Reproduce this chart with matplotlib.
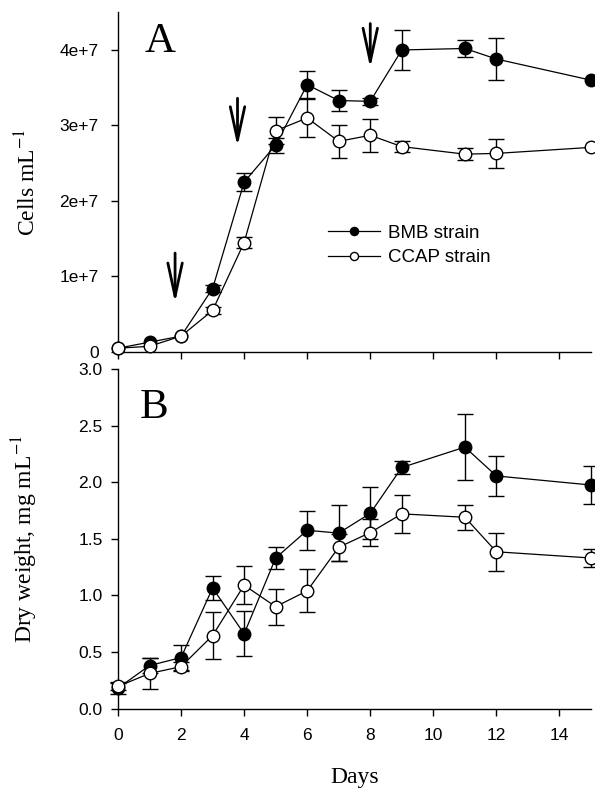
import numpy as np
import matplotlib
matplotlib.use("Agg")
import matplotlib.pyplot as plt

# -----------------------------
# data
# -----------------------------

days = np.array([0, 1, 2, 3, 4, 5, 6, 7, 8, 9, 11, 12, 15])

# panel A: cell density (cells per mL)
bmb_cells = np.array([0.05, 0.13, 0.21, 0.84, 2.25, 2.74, 3.54, 3.33, 3.32, 4.00, 4.02, 3.88, 3.60]) * 1e7
bmb_cells_err = np.array([0.0, 0.0, 0.0, 0.05, 0.115, 0.10, 0.18, 0.14, 0.05, 0.26, 0.115, 0.28, 0.0]) * 1e7
ccap_cells = np.array([0.05, 0.075, 0.21, 0.55, 1.45, 2.93, 3.10, 2.79, 2.87, 2.72, 2.62, 2.63, 2.71]) * 1e7
ccap_cells_err = np.array([0.0, 0.0, 0.0, 0.05, 0.07, 0.18, 0.25, 0.215, 0.215, 0.07, 0.08, 0.19, 0.0]) * 1e7

# panel B: dry weight (mg per mL)
bmb_dw = np.array([0.18, 0.38, 0.45, 1.065, 0.66, 1.33, 1.575, 1.55, 1.725, 2.13, 2.31, 2.055, 1.975])
bmb_dw_err = np.array([0.05, 0.07, 0.11, 0.11, 0.20, 0.10, 0.17, 0.25, 0.23, 0.06, 0.29, 0.18, 0.17])
ccap_dw = np.array([0.195, 0.31, 0.37, 0.645, 1.09, 0.90, 1.04, 1.425, 1.555, 1.72, 1.69, 1.385, 1.33])
ccap_dw_err = np.array([0.03, 0.14, 0.04, 0.21, 0.17, 0.16, 0.19, 0.12, 0.12, 0.17, 0.11, 0.17, 0.08])

# arrows in panel A: (day, top, tip)
arrow_days = [1.81, 3.79, 8.0]
arrow_tops = [1.31e7, 3.36e7, 4.35e7]
arrow_tips = [0.65e7, 2.72e7, 3.76e7]

x_ticks = [0, 2, 4, 6, 8, 10, 12, 14]
cell_ticks = [0, 1e7, 2e7, 3e7, 4e7]
cell_tick_labels = ["0", "1e+7", "2e+7", "3e+7", "4e+7"]
dw_ticks = [0.0, 0.5, 1.0, 1.5, 2.0, 2.5, 3.0]

# -----------------------------
# style
# -----------------------------

plt.rcParams["font.family"] = "Liberation Sans"
plt.rcParams["mathtext.fontset"] = "stix"
serif = "Liberation Serif"

fig = plt.figure(figsize=(5.95, 7.89), dpi=100)
ax1 = fig.add_axes([0.1983, 0.5539, 0.7950, 0.4306])
ax2 = fig.add_axes([0.1983, 0.1020, 0.7950, 0.4303])


def draw_series(ax, y, err, filled, label):
    m = err > 0
    ax.errorbar(days[m], y[m], yerr=err[m], fmt="none", ecolor="black",
                elinewidth=1.0, capsize=6, capthick=1.0, zorder=2, clip_on=False)
    ax.plot(days, y, "-o", color="black", lw=0.9, ms=9,
            mfc="black" if filled else "white", mec="black", mew=1.0,
            label=label, zorder=3, clip_on=False)


def style_axes(ax):
    for side in ["top", "right"]:
        ax.spines[side].set_visible(False)
    for side in ["left", "bottom"]:
        ax.spines[side].set_linewidth(1.0)
    ax.set_xlim(0, 15)
    ax.set_xticks(x_ticks)
    ax.tick_params(direction="out", length=5, width=1.0, labelsize=12.5)


# panel A
draw_series(ax1, bmb_cells, bmb_cells_err, True, "BMB strain")
draw_series(ax1, ccap_cells, ccap_cells_err, False, "CCAP strain")
style_axes(ax1)
ax1.set_ylim(0, 4.5e7)
ax1.set_yticks(cell_ticks)
ax1.set_yticklabels(cell_tick_labels)
ax1.tick_params(axis="x", labelbottom=False)
ax1.tick_params(axis="y", pad=9)
ax1.set_ylabel(r"Cells mL$^{-1}$", fontsize=17, family=serif)
ax1.yaxis.set_label_coords(-0.165, 0.5)
ax1.text(0.057, 0.883, "A", transform=ax1.transAxes, fontsize=31, family=serif, va="baseline")

for d, top, tip in zip(arrow_days, arrow_tops, arrow_tips):
    ax1.annotate("", xy=(d, tip), xytext=(d, top),
                 arrowprops=dict(arrowstyle="->,head_length=1.2,head_width=0.26",
                                 mutation_scale=20, lw=2.0, color="black",
                                 shrinkA=0, shrinkB=0))

leg = ax1.legend(loc="upper left", bbox_to_anchor=(0.443, 0.375), frameon=False,
                 fontsize=13.5, handlelength=2.8, handletextpad=0.45,
                 labelspacing=0.4, borderpad=0, borderaxespad=0, markerscale=0.65)

# panel B
draw_series(ax2, bmb_dw, bmb_dw_err, True, "BMB strain")
draw_series(ax2, ccap_dw, ccap_dw_err, False, "CCAP strain")
style_axes(ax2)
ax2.set_ylim(0, 3.0)
ax2.set_yticks(dw_ticks)
ax2.set_yticklabels([f"{t:.1f}" for t in dw_ticks])
ax2.tick_params(axis="y", pad=6)
ax2.tick_params(axis="x", pad=9)
ax2.set_ylabel(r"Dry weight, mg mL$^{-1}$", fontsize=17, family=serif)
ax2.yaxis.set_label_coords(-0.165, 0.5)
ax2.set_xlabel("Days", fontsize=17, family=serif, labelpad=17)
ax2.text(0.0465, 0.856, "B", transform=ax2.transAxes, fontsize=31, family=serif, va="baseline")

fig.savefig("out.png", dpi=100)
